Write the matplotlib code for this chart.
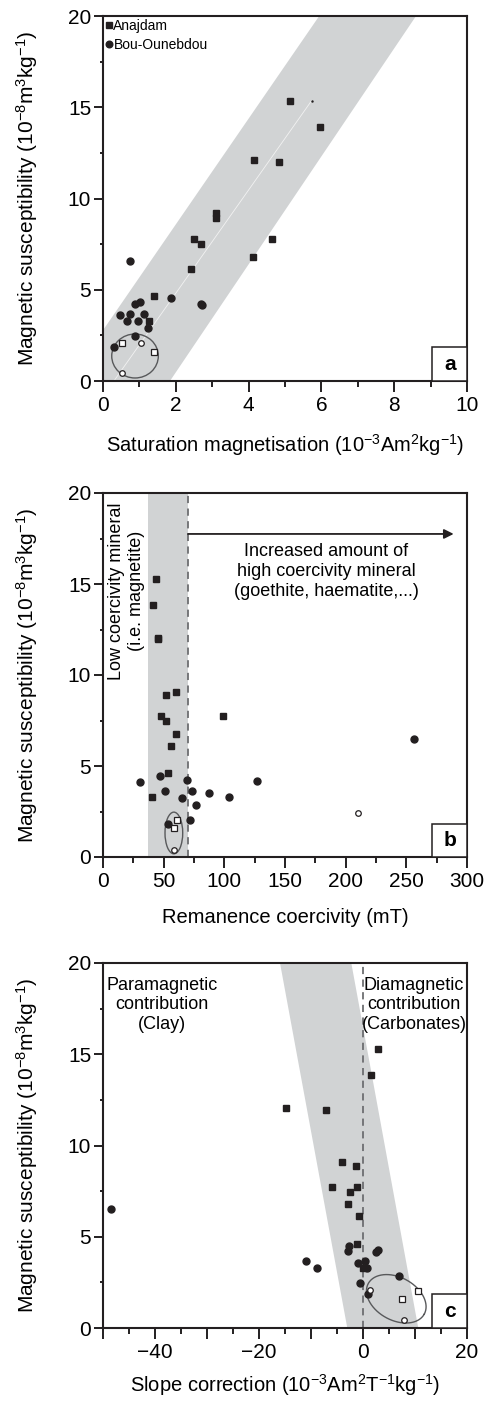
import numpy as np
import matplotlib
matplotlib.use("Agg")
import matplotlib.pyplot as plt
from matplotlib.patches import Ellipse, Polygon, Rectangle
from matplotlib.ticker import MultipleLocator, FuncFormatter

plt.rcParams['font.family'] = ['Liberation Sans', 'DejaVu Sans']
plt.rcParams['mathtext.fontset'] = 'custom'
plt.rcParams['mathtext.rm'] = 'Liberation Sans'
plt.rcParams['mathtext.default'] = 'regular'

# --- data ---
# panel a: saturation magnetisation vs susceptibility
a_sq_x = [5.15, 5.96, 4.15, 4.83, 3.10, 3.10, 2.49, 2.68, 4.64, 4.12, 2.42, 1.41, 1.27]
a_sq_y = [15.36, 13.9, 12.09, 12.02, 9.19, 8.91, 7.78, 7.49, 7.76, 6.78, 6.14, 4.68, 3.30]
a_ci_x = [0.74, 1.87, 2.70, 2.73, 1.02, 0.89, 0.47, 0.74, 1.14, 0.66, 0.95, 1.23, 0.89, 0.29]
a_ci_y = [6.56, 4.55, 4.22, 4.15, 4.33, 4.20, 3.60, 3.67, 3.67, 3.30, 3.30, 2.89, 2.47, 1.86]
a_osq_x = [0.53, 1.41]
a_osq_y = [2.08, 1.61]
a_oci_x = [1.05, 0.53]
a_oci_y = [2.08, 0.44]

# panel b: remanence coercivity vs susceptibility
b_sq_x = [44.0, 41.0, 45.1, 45.4, 51.7, 60.2, 47.8, 52.2, 99.0, 60.0, 55.8, 53.9, 40.4]
b_sq_y = [15.29, 13.86, 12.05, 11.96, 8.88, 9.07, 7.73, 7.45, 7.74, 6.77, 6.10, 4.60, 3.29]
b_ci_x = [256.0, 30.5, 47.3, 69.5, 127.0, 51.1, 73.4, 87.4, 104.2, 64.9, 76.5, 71.8, 53.9]
b_ci_y = [6.47, 4.13, 4.47, 4.25, 4.18, 3.65, 3.65, 3.54, 3.30, 3.25, 2.85, 2.04, 1.82]
b_osq_x = [60.8, 58.3]
b_osq_y = [2.04, 1.59]
b_oci_x = [210.1, 58.3]
b_oci_y = [2.44, 0.36]

# panel c: slope correction vs susceptibility
c_sq_x = [2.88, 1.54, -14.8, -7.17, -3.98, -1.42, -6.02, -1.09, -2.5, -2.88, -0.83, -1.21, 0.06]
c_sq_y = [15.27, 13.88, 12.07, 11.94, 9.09, 8.89, 7.72, 7.70, 7.45, 6.79, 6.12, 4.62, 3.29]
c_ci_x = [-48.5, -2.75, -2.94, 2.88, 2.44, -11.0, -8.79, -0.93, 0.48, 0.83, -0.6, 6.92, 1.0]
c_ci_y = [6.5, 4.51, 4.20, 4.27, 4.14, 3.67, 3.30, 3.57, 3.68, 3.28, 2.48, 2.87, 1.84]
c_osq_x = [10.5, 7.56]
c_osq_y = [2.04, 1.61]
c_oci_x = [1.29, 7.95]
c_oci_y = [2.08, 0.44]

BLACK = '#231f20'
BAND = '#d1d3d4'
DASH = '#6d6e71'
ELL = '#58595b'

W, H = 493, 1401
fig = plt.figure(figsize=(W / 100, H / 100), dpi=100)

left = 103 / W
width = 364 / W
ylabel = 'Magnetic susceptibility (10$^{-8}$m$^{3}$kg$^{-1}$)'


def make_axes(top_px, bottom_px):
    ax = fig.add_axes([left, 1 - bottom_px / H, width, (bottom_px - top_px) / H])
    for s in ax.spines.values():
        s.set_linewidth(1.5)
        s.set_color(BLACK)
    ax.set_ylim(0, 20)
    ax.yaxis.set_major_locator(MultipleLocator(5))
    ax.yaxis.set_minor_locator(MultipleLocator(2.5))
    ax.tick_params(axis='both', which='both', direction='out', width=1.4,
                   color=BLACK, labelsize=15)
    ax.tick_params(axis='y', which='major', length=6.5, pad=2)
    ax.tick_params(axis='y', which='minor', length=2.5)
    ax.tick_params(axis='x', which='major', length=8, pad=3)
    ax.tick_params(axis='x', which='minor', length=4.5)
    ax.set_ylabel(ylabel, fontsize=15)
    ax.yaxis.set_label_coords(-0.172, 0.5)
    return ax


def draw_points(ax, sx, sy, cx, cy, osx, osy, ocx, ocy):
    ax.plot(sx, sy, 's', ms=4.6, color=BLACK, mec=BLACK, zorder=5, label='Anajdam')
    ax.plot(cx, cy, 'o', ms=5, color=BLACK, mec=BLACK, zorder=5, label='Bou-Ounebdou',
            clip_on=False)
    ax.plot(osx, osy, 's', ms=4, mfc='white', mec=BLACK, mew=0.9, zorder=6)
    ax.plot(ocx, ocy, 'o', ms=4, mfc='white', mec=BLACK, mew=0.9, zorder=6)


def letter_box(ax, letter):
    ax.add_patch(Rectangle((1 - 0.095, 0), 0.095, 0.092, transform=ax.transAxes,
                           facecolor='white', edgecolor=BLACK, lw=1.1, zorder=8,
                           clip_on=False))
    ax.text(1 - 0.0475, 0.046, letter, transform=ax.transAxes, ha='center',
            va='center', fontsize=15, fontweight='bold', zorder=9)


# ---------------- panel a ----------------
ax1 = make_axes(16, 381)
ax1.set_xlim(0, 10)
ax1.xaxis.set_major_locator(MultipleLocator(2))
ax1.xaxis.set_minor_locator(MultipleLocator(1))
ax1.add_patch(Polygon([(-0.96, 0), (1.84, 0), (8.6, 20), (5.94, 20)],
                      closed=True, facecolor=BAND, edgecolor='none', zorder=1))
ax1.plot([0.3, 5.73], [0, 15.36], color='#f2f2f2', lw=0.6, zorder=2)
ax1.plot([5.73], [15.36], '.', ms=1.5, color=BLACK, zorder=2)
draw_points(ax1, a_sq_x, a_sq_y, a_ci_x, a_ci_y, a_osq_x, a_osq_y, a_oci_x, a_oci_y)
ax1.add_patch(Ellipse((0.88, 1.37), 1.28, 2.41, facecolor='none', edgecolor=ELL,
                      lw=1.0, zorder=4))
ax1.legend(loc='upper left', frameon=False, fontsize=10, handlelength=0.4,
           handletextpad=0.15, borderaxespad=0.1, borderpad=0.1, labelspacing=0.35,
           markerscale=0.95)
ax1.set_xlabel('Saturation magnetisation (10$^{-3}$Am$^{2}$kg$^{-1}$)', fontsize=14.5)
ax1.xaxis.set_label_coords(0.5, -0.14)
letter_box(ax1, 'a')

# ---------------- panel b ----------------
ax2 = make_axes(493, 857)
ax2.set_xlim(0, 300)
ax2.xaxis.set_major_locator(MultipleLocator(50))
ax2.xaxis.set_minor_locator(MultipleLocator(25))
ax2.axvspan(37.4, 70, facecolor=BAND, edgecolor='none', zorder=1)
ax2.axvline(70, color=DASH, lw=1.3, ls=(0, (4, 3)), zorder=2)
ax2.annotate('', xy=(289, 17.75), xytext=(70, 17.75),
             arrowprops=dict(arrowstyle='-|>', color=BLACK, lw=1.3,
                             mutation_scale=14, shrinkA=0, shrinkB=0), zorder=3)
ax2.text(184, 15.7, 'Increased amount of\nhigh coercivity mineral\n(goethite, haematite,...)',
         ha='center', va='center', fontsize=13, linespacing=1.22, zorder=3)
ax2.text(19.5, 14.6, 'Low coercivity mineral\n(i.e. magnetite)', rotation=90,
         ha='center', va='center', multialignment='center', fontsize=13,
         linespacing=1.2, zorder=3)
draw_points(ax2, b_sq_x, b_sq_y, b_ci_x, b_ci_y, b_osq_x, b_osq_y, b_oci_x, b_oci_y)
ax2.add_patch(Ellipse((58.4, 1.32), 14.6, 2.29, facecolor='none', edgecolor=ELL,
                      lw=1.0, zorder=4))
ax2.set_xlabel('Remanence coercivity (mT)', fontsize=14.5)
ax2.xaxis.set_label_coords(0.5, -0.14)
letter_box(ax2, 'b')

# ---------------- panel c ----------------
ax3 = make_axes(963, 1328)
ax3.set_xlim(-50, 20)
ax3.xaxis.set_major_locator(MultipleLocator(10))
ax3.xaxis.set_minor_locator(MultipleLocator(5))
ax3.xaxis.set_major_formatter(FuncFormatter(
    lambda v, p: ('%d' % v).replace('-', '\u2212') if round(v) % 20 == 0 else ''))
ax3.add_patch(Polygon([(-15.96, 20), (-2.25, 20), (10.63, 0), (-3.02, 0)],
                      closed=True, facecolor=BAND, edgecolor='none', zorder=1))
ax3.axvline(0, color=DASH, lw=1.3, ls=(0, (4, 3)), zorder=2)
ax3.text(-38.6, 17.7, 'Paramagnetic\ncontribution\n(Clay)', ha='center', va='center',
         fontsize=13, linespacing=1.22, zorder=3)
ax3.text(9.8, 17.7, 'Diamagnetic\ncontribution\n(Carbonates)', ha='center', va='center',
         fontsize=13, linespacing=1.22, zorder=3)
draw_points(ax3, c_sq_x, c_sq_y, c_ci_x, c_ci_y, c_osq_x, c_osq_y, c_oci_x, c_oci_y)
# tilted ellipse, built in pixel space so its tilt matches the printed figure
sx = 364 / 70.0
sy = 365 / 20.0
t = np.linspace(0, 2 * np.pi, 200)
phi = np.deg2rad(-28.7)
ea, eb = 31.9, 21.4
ex = 6.4 + (ea * np.cos(t) * np.cos(phi) - eb * np.sin(t) * np.sin(phi)) / sx
ey = 1.6 + (ea * np.cos(t) * np.sin(phi) + eb * np.sin(t) * np.cos(phi)) / sy
ax3.plot(ex, ey, color=ELL, lw=1.0, zorder=4)
ax3.set_xlabel('Slope correction (10$^{-3}$Am$^{2}$T$^{-1}$kg$^{-1}$)', fontsize=14.5)
ax3.xaxis.set_label_coords(0.5, -0.12)
letter_box(ax3, 'c')

fig.savefig('out.png', dpi=100)
